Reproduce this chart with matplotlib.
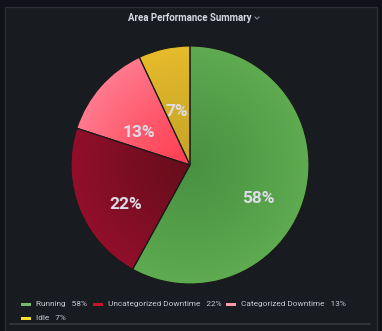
import numpy as np
import matplotlib
matplotlib.use("Agg")
import matplotlib.pyplot as plt
from matplotlib.patches import Wedge, Rectangle
from matplotlib.colors import to_rgb

plt.rcParams['font.family'] = ['Roboto', 'DejaVu Sans']

title = "Area Performance Summary"
labels = ["Running", "Uncategorized Downtime", "Categorized Downtime", "Idle"]
values = [58, 22, 13, 7]
# inner / outer colour of each slice's radial gradient
inner_cols = ["#4a9243", "#680d1b", "#ff3f52", "#c7a527"]
outer_cols = ["#5eab50", "#920f2b", "#ff7a8e", "#e6bb2b"]
legend_cols = ["#73bf69", "#c4162a", "#ff9aa8", "#fade2a"]
label_dist = [0.63, 0.63, 0.55, 0.48]
label_nudge = [(-4, -15), (5, -12), (-2, -11), (-1, -2)]

W, H = 382, 331
fig = plt.figure(figsize=(W / 100, H / 100), dpi=100)
fig.patch.set_facecolor("#111217")

# panel frame
bg = fig.add_axes([0, 0, 1, 1])
bg.set_xlim(0, W)
bg.set_ylim(H, 0)
bg.axis("off")
bg.add_patch(Rectangle((4.5, 6.5), 372, 330, facecolor="#181b1f",
                       edgecolor="#2c2f35", lw=1))
bg.plot([10, 370], [324, 324], color="#34373d", lw=1.2)
bg.text(189.5, 18, title, color="#d8d9e0", fontsize=6.9, fontweight="semibold",
        ha="center", va="center")
# dropdown chevron
bg.plot([255, 257, 259], [17, 19, 17], color="#8e8e99", lw=0.8)

# legend
leg_rows = [[0, 1, 2], [3]]
leg_x = [[21, 93, 226], [21]]
leg_y = [304, 318]
for row, xs, y in zip(leg_rows, leg_x, leg_y):
    for i, x in zip(row, xs):
        bg.add_patch(Rectangle((x, y - 1.5), 9.5, 3, facecolor=legend_cols[i], lw=0))
        bg.text(x + 15, y, f"{labels[i]}   {values[i]}%", color="#c7c8d2",
                fontsize=5.95, ha="left", va="center")

# pie
cx, cy, R = 190, 165, 119
ax = fig.add_axes([(cx - R - 2) / W, 1 - (cy + R + 2) / H,
                   (2 * R + 4) / W, (2 * R + 4) / H])
ax.set_xlim(-R - 2, R + 2)
ax.set_ylim(-R - 2, R + 2)
ax.set_aspect("equal")
ax.axis("off")

n = 300
gx, gy = np.meshgrid(np.linspace(-R, R, n), np.linspace(-R, R, n))
rr = np.clip(np.hypot(gx, gy) / R, 0, 1)[..., None]

total = sum(values)
start = 90.0
for i, v in enumerate(values):
    sweep = 360.0 * v / total
    t1, t2 = start - sweep, start
    w = Wedge((0, 0), R, t1, t2, facecolor="none", edgecolor="#1a1a1a", lw=0.8, zorder=3)
    ax.add_patch(w)
    c0 = np.array(to_rgb(inner_cols[i]))
    c1 = np.array(to_rgb(outer_cols[i]))
    img = c0 + (c1 - c0) * rr ** 1.2
    im = ax.imshow(img, extent=(-R, R, -R, R), origin="lower", zorder=2,
                   interpolation="bilinear")
    im.set_clip_path(Wedge((0, 0), R, t1, t2, transform=ax.transData))
    mid = np.deg2rad((t1 + t2) / 2)
    d = label_dist[i] * R
    nx, ny = label_nudge[i]
    ax.text(d * np.cos(mid) + nx, d * np.sin(mid) + ny, f"{v}%", color="#dcdde6",
            fontsize=12.5, fontweight="bold", ha="center", va="center", zorder=4)
    start = t1

fig.savefig("out.png", dpi=100, facecolor=fig.get_facecolor())
